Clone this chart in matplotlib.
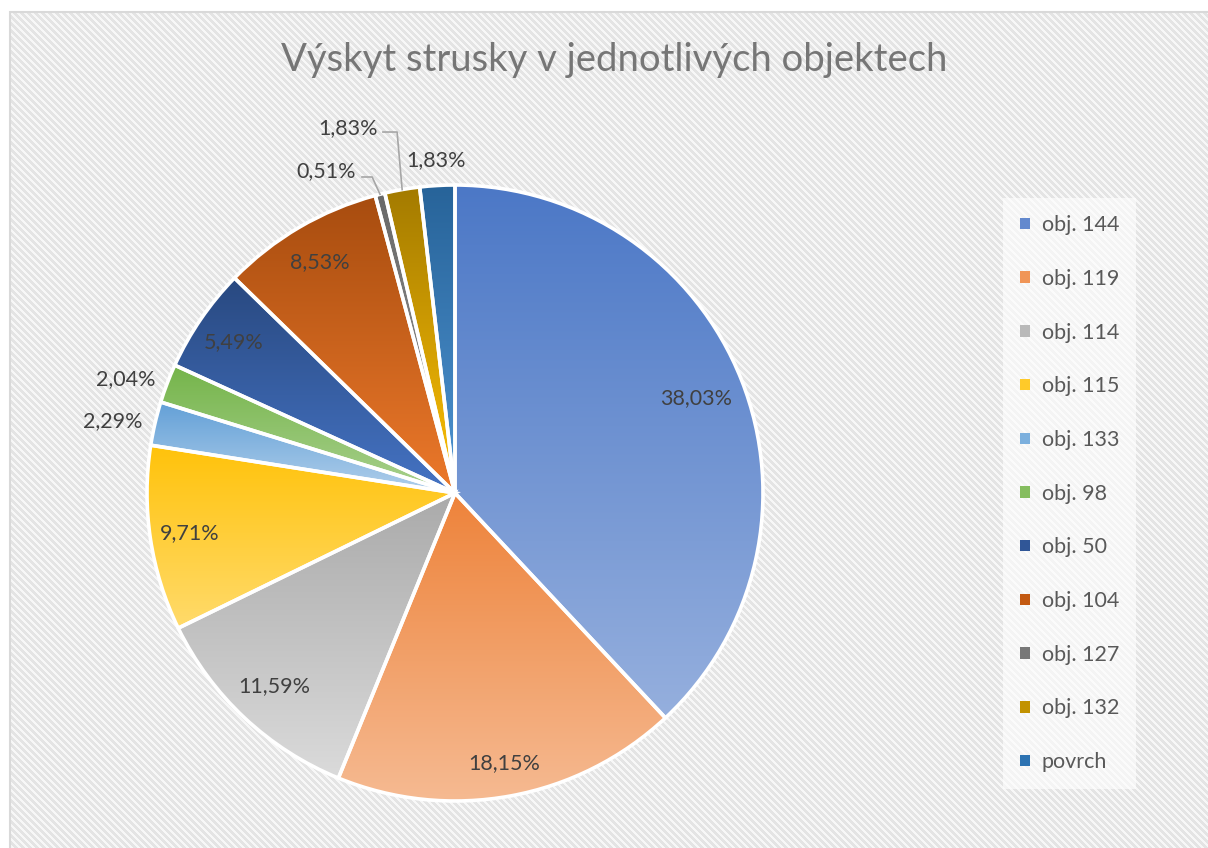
import colorsys
import numpy as np
import matplotlib
matplotlib.use("Agg")
import matplotlib.pyplot as plt
from matplotlib.colors import to_rgb
from matplotlib.patches import Rectangle, Patch

plt.rcParams["font.family"] = ["Lato", "DejaVu Sans"]

title = "Výskyt strusky v jednotlivých objektech"
categories = ["obj. 144", "obj. 119", "obj. 114", "obj. 115", "obj. 133", "obj. 98",
              "obj. 50", "obj. 104", "obj. 127", "obj. 132", "povrch"]
shares = [38.03, 18.15, 11.59, 9.71, 2.29, 2.04, 5.49, 8.53, 0.51, 1.83, 1.83]
colors = ["#4472C4", "#ED7D31", "#A5A5A5", "#FFC000", "#5B9BD5", "#70AD47",
          "#264478", "#9E480E", "#636363", "#997300", "#255E91"]

W, H, DPI = 1208, 848, 100
fig = plt.figure(figsize=(W / DPI, H / DPI), dpi=DPI)
fig.patch.set_facecolor("white")

# diagonal striped backdrop of the chart area
bg = fig.add_axes([0, 0, 1, 1], zorder=-5)
yy, xx = np.mgrid[0:H, 0:W]
phase = ((xx - yy) % 7) / 7.0
stripe = np.where(phase < 0.5, 0.895, 0.972)
tex = np.dstack([stripe] * 3)
tex[:12, :, :] = 1.0
tex[:, :10, :] = 1.0
bg.imshow(tex, extent=[0, W, H, 0], interpolation="nearest", aspect="auto")
bg.set_xlim(0, W)
bg.set_ylim(H, 0)
bg.axis("off")
fig.add_artist(Rectangle((10 / W, -0.01), 1, 1 - 12 / H + 0.01, transform=fig.transFigure,
                         facecolor="none", edgecolor="#d9d9d9", linewidth=1.5, zorder=0.5))

# pie axes: centre (455, 493) px, radius 308 px
cx, cy, rad, lim = 455, 493, 308, 1.3
side = 2 * lim * rad
ax = fig.add_axes([(cx - side / 2) / W, (H - cy - side / 2) / H, side / W, side / H])
ax.patch.set_alpha(0)

wedges, _ = ax.pie(shares, colors=colors, startangle=90, counterclock=False, radius=1,
                   wedgeprops=dict(edgecolor="white", linewidth=2.6))
ax.set_xlim(-lim, lim)
ax.set_ylim(-lim, lim)
ax.set_aspect("equal")
ax.axis("off")


def lighter(c, dl=0.2):
    h, l, s = colorsys.rgb_to_hls(*to_rgb(c))
    return colorsys.hls_to_rgb(h, min(l + dl, 0.95), s)


# vertical gradient inside every slice
for w, c in zip(wedges, colors):
    verts = w.get_patch_transform().transform(w.get_path().vertices)
    x0, x1 = verts[:, 0].min(), verts[:, 0].max()
    y0, y1 = verts[:, 1].min(), verts[:, 1].max()
    top, bot = np.array(lighter(c, 0.02)), np.array(lighter(c, 0.21))
    t = np.linspace(0, 1, 256)[:, None, None]
    img = top * (1 - t) + bot * t
    im = ax.imshow(img, extent=[x0, x1, y0, y1], origin="upper", aspect="auto",
                   interpolation="bilinear", zorder=1)
    im.set_clip_path(w)
    w.set_facecolor("none")
    w.set_zorder(2)


def pct(v):
    return f"{v:.2f}%".replace(".", ",")


def mid(w):
    return np.deg2rad((w.theta1 + w.theta2) / 2)


txt_kw = dict(fontsize=15.5, color="#404040", zorder=3)

# labels inside the bigger slices
inside = {0: 0.84, 1: 0.89, 2: 0.86, 3: 0.87, 6: 0.87, 7: 0.87}
for i, r in inside.items():
    a = mid(wedges[i])
    ax.text(r * np.cos(a), r * np.sin(a), pct(shares[i]), ha="center", va="center", **txt_kw)

# labels just outside the thin slices
for i in (4, 5):
    a = mid(wedges[i])
    ax.text(1.04 * np.cos(a), 1.04 * np.sin(a), pct(shares[i]), ha="right", va="center", **txt_kw)
a = mid(wedges[10])
ax.text(1.05 * np.cos(a), 1.05 * np.sin(a), pct(shares[10]), ha="center", va="bottom", **txt_kw)

# leader lines for the two tiniest slices
leaders = {8: ((-0.419, 1.045), [(-0.302, 1.026), (-0.269, 1.026)]),
           9: ((-0.347, 1.185), [(-0.234, 1.172), (-0.188, 1.172)])}
for i, (pos, pts) in leaders.items():
    a = mid(wedges[i])
    xs = [p[0] for p in pts] + [np.cos(a)]
    ys = [p[1] for p in pts] + [np.sin(a)]
    ax.plot(xs, ys, color="#a6a6a6", lw=1.2, zorder=3)
    ax.text(pos[0], pos[1], pct(shares[i]), ha="center", va="center", **txt_kw)

fig.text(614 / W, 1 - 60 / H, title, ha="center", va="center", fontsize=27.5, color="#767676")

handles = [Patch(facecolor=lighter(c, 0.08), edgecolor="none") for c in colors]
leg = fig.legend(handles, categories, loc="upper left", bbox_to_anchor=(1003 / W, 1 - 198 / H),
                 frameon=True, fontsize=15.5, labelspacing=1.565, handlelength=0.45,
                 handleheight=0.45, handletextpad=0.55, borderpad=0.8, borderaxespad=0)
leg.get_frame().set_facecolor("white")
leg.get_frame().set_alpha(0.6)
leg.get_frame().set_edgecolor("none")
leg.get_frame().set_boxstyle("square", pad=0)
for t in leg.get_texts():
    t.set_color("#595959")

fig.savefig("out.png", dpi=DPI)
